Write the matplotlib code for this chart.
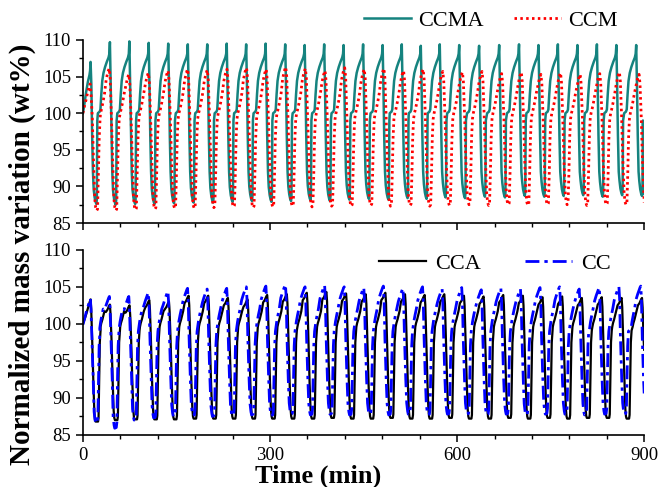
import matplotlib.pyplot as plt
from matplotlib.ticker import MultipleLocator

plt.rcParams['font.family'] = ['Liberation Serif', 'DejaVu Serif']

# ---- values ----
# time (min) of each cycle's peak, peak and trough values (wt%)
ccma_peak_t = [12.3, 43.3, 74.5, 105.5, 136.8, 168.2, 199.4, 230.6, 261.8, 293.0,
               324.4, 355.6, 386.9, 418.0, 449.3, 480.6, 511.3, 541.8, 572.2, 603.4,
               635.3, 667.5, 699.3, 730.5, 761.6, 793.0, 824.2, 855.4, 887.2]
ccma_peak = [107.0, 109.7, 109.8, 109.6, 109.5, 109.4, 109.4, 109.5, 109.4, 109.5,
             109.4, 109.3, 109.4, 109.3, 109.4, 109.3, 109.4, 109.2, 109.4, 109.3,
             109.2, 109.3, 109.4, 109.3, 109.4, 109.3, 109.4, 109.3, 109.3]
ccma_trough = [87.6, 87.5, 87.6, 87.6, 87.7, 87.8, 87.8, 87.9, 88.0, 87.9,
               88.0, 88.1, 88.0, 88.2, 88.3, 88.2, 88.4, 88.3, 88.5, 88.4,
               88.6, 88.5, 88.7, 88.6, 88.7, 88.8, 88.6, 88.8, 88.7]

ccm_peak_t = [11.5, 42.2, 73.7, 105.0, 136.6, 168.0, 199.5, 231.0, 262.4, 293.9,
              325.3, 356.8, 388.3, 419.8, 451.2, 482.7, 514.2, 545.6, 577.1, 608.6,
              640.0, 671.5, 703.0, 734.4, 765.9, 797.4, 828.8, 860.3, 891.8]
ccm_peak = [104.0, 106.1, 105.3, 105.5, 105.8, 106.0, 105.9, 106.0, 106.2, 106.0,
            106.3, 106.1, 105.8, 106.2, 106.0, 106.1, 105.8, 106.0, 105.7, 105.6,
            105.7, 105.4, 105.6, 105.3, 105.5, 105.3, 105.4, 105.6, 105.3]
ccm_trough = [86.7, 86.7, 86.8, 86.9, 87.0, 87.0, 87.1, 87.2, 87.1, 87.2,
              87.3, 87.2, 87.3, 87.3, 87.4, 87.3, 87.4, 87.3, 87.4, 87.5,
              87.4, 87.5, 87.4, 87.5, 87.5, 87.4, 87.5, 87.5, 87.5]

cca_peak_t = [12.3, 43.3, 74.8, 106.5, 138.0, 169.5, 201.0, 232.5, 264.0, 295.5,
              327.0, 359.0, 390.5, 422.0, 453.5, 485.0, 516.5, 548.0, 579.5, 611.0,
              642.5, 674.0, 705.5, 737.0, 768.5, 800.0, 832.0, 863.8, 896.5]
cca_peak = [103.3, 102.6, 102.5, 103.2, 103.0, 103.8, 103.8, 103.5, 103.3, 103.9,
            104.0, 104.2, 104.3, 104.1, 104.0, 104.2, 104.0, 103.9, 104.0, 103.8,
            103.7, 103.9, 103.8, 103.6, 103.7, 103.5, 103.6, 103.5, 103.5]
cca_trough = [86.8, 87.0, 87.1, 87.1, 87.1, 87.2, 87.2, 87.2, 87.2, 87.2,
              87.2, 87.2, 87.3, 87.2, 87.2, 87.3, 87.2, 87.2, 87.3, 87.2,
              87.2, 87.3, 87.2, 87.3, 87.2, 87.3, 87.3, 87.2, 87.3]

cc_peak_t = [12.0, 42.5, 73.6, 105.0, 136.4, 167.8, 199.2, 230.6, 262.0, 293.4,
             324.8, 356.2, 387.6, 419.0, 450.4, 481.8, 513.2, 544.6, 576.0, 607.4,
             638.8, 670.2, 701.6, 733.0, 764.4, 795.8, 828.0, 859.5, 894.5]
cc_peak = [103.4, 103.7, 103.7, 104.2, 104.4, 104.8, 104.7, 104.8, 105.0, 105.1,
           105.3, 105.0, 105.2, 105.0, 104.9, 105.1, 104.8, 105.0, 104.7, 104.9,
           104.6, 104.8, 104.7, 104.9, 105.0, 104.7, 104.9, 105.0, 105.1]
cc_trough = [86.6, 85.9, 87.0, 87.3, 87.5, 87.6, 87.5, 87.6, 87.7, 87.6,
             87.8, 87.7, 87.8, 87.7, 87.8, 87.7, 87.8, 87.7, 87.8, 87.8,
             87.7, 87.8, 87.7, 87.8, 87.8, 87.7, 87.8, 87.8, 87.8]

# shape of one cycle around its peak: (min from peak, value, ref)
# ref 'a' = absolute wt%, 'p' = offset from the peak, 't' = offset from the trough
ccma_shape = [(-19.3, 100.0, 'a'), (-16.5, 100.2, 'a'), (-15.2, 100.5, 'a'),
              (-13.8, 102.6, 'a'), (-12.3, 104.4, 'a'), (-10.3, 105.5, 'a'),
              (-7.8, 106.3, 'a'), (-5.0, 107.0, 'a'), (-2.2, 107.6, 'a'),
              (-0.9, 108.1, 'a'), (0, 0, 'p'), (1.2, 104.0, 'a'), (2.5, 97.0, 'a'),
              (3.8, 92.0, 'a'), (5.0, 2.0, 't'), (6.5, 0.9, 't'), (8.0, 0.3, 't'),
              (9.3, 0.0, 't'), (10.0, 0.6, 't'), (10.4, 94.0, 'a'), (10.8, 99.0, 'a')]
ccm_shape = [(-14.0, 100.0, 'a'), (-12.5, 100.5, 'a'), (-10.0, 101.5, 'a'),
             (-7.5, 102.7, 'a'), (-5.0, -1.6, 'p'), (-2.5, -0.6, 'p'), (-1.0, -0.2, 'p'),
             (0, 0, 'p'), (1.5, -1.3, 'p'), (3.5, 99.5, 'a'), (5.5, 93.5, 'a'),
             (7.5, 1.6, 't'), (9.0, 0.4, 't'), (10.5, 0.0, 't'), (12.0, 0.2, 't'),
             (13.3, 91.5, 'a'), (14.6, 96.5, 'a'), (16.0, 99.2, 'a')]
cca_shape = [(-15.0, 99.6, 'a'), (-13.8, 100.1, 'a'), (-12.0, 100.6, 'a'),
             (-10.3, 101.2, 'a'), (-8.8, 101.7, 'a'), (-6.5, -1.0, 'p'), (-4.0, -0.7, 'p'),
             (-2.0, -0.3, 'p'), (-0.8, -0.1, 'p'), (0, 0, 'p'), (1.0, -1.3, 'p'),
             (2.5, 98.0, 'a'), (4.5, 92.0, 'a'), (6.0, 1.3, 't'), (7.0, 0.3, 't'),
             (8.0, 0.0, 't'), (12.0, 0.0, 't'), (12.8, 0.5, 't'), (13.8, 92.5, 'a'),
             (14.8, 97.5, 'a'), (16.0, 99.1, 'a')]
cc_shape = [(-15.5, 99.4, 'a'), (-14.0, 100.3, 'a'), (-12.0, 101.2, 'a'),
            (-10.0, 102.0, 'a'), (-7.5, -1.8, 'p'), (-5.0, -1.1, 'p'), (-2.5, -0.5, 'p'),
            (-1.0, -0.15, 'p'), (0, 0, 'p'), (1.0, -1.5, 'p'), (2.5, 98.0, 'a'),
            (4.5, 92.5, 'a'), (6.0, 1.5, 't'), (7.5, 0.4, 't'), (8.5, 0.0, 't'),
            (11.0, 0.1, 't'), (12.0, 0.8, 't'), (13.0, 92.5, 'a'), (14.0, 97.0, 'a'),
            (15.3, 99.0, 'a')]

# first (partial) cycle, from t = 0 up to the first peak
ccma_start = ([0, 2, 5, 8, 10.5, 11.5], [100.0, 101.0, 102.8, 104.3, 105.2, 105.8])
ccm_start = ([0, 2, 5, 8, 10], [100.0, 100.8, 101.8, 103.0, 103.6])
cca_start = ([0, 3, 6, 9, 11], [100.0, 100.7, 101.5, 102.4, 103.0])
cc_start = ([0, 3, 6, 9, 11], [99.9, 100.8, 101.8, 102.6, 103.2])

# value at t = 900 min
ccma_end = 89.0
ccm_end = 87.8
cca_end = 96.5
cc_end = 90.6


def build(start, peak_t, peaks, troughs, shape, end_val, t_end=900):
    t, v = list(start[0]), list(start[1])
    for i, (tp, p, tr) in enumerate(zip(peak_t, peaks, troughs)):
        for dt, val, ref in shape:
            if i == 0 and dt < 0:
                continue
            if tp + dt >= t_end:
                continue
            t.append(tp + dt)
            v.append(val if ref == 'a' else (p + val if ref == 'p' else tr + val))
    t.append(t_end)
    v.append(end_val)
    return t, v


fig = plt.figure(figsize=(6.58, 4.87), dpi=100)
ax1 = fig.add_axes([0.126, 0.542, 0.853, 0.376])
ax2 = fig.add_axes([0.126, 0.107, 0.853, 0.380])

l1, = ax1.plot(*build(ccma_start, ccma_peak_t, ccma_peak, ccma_trough, ccma_shape, ccma_end),
               color='#15837f', lw=1.8, label='CCMA')
l2, = ax1.plot(*build(ccm_start, ccm_peak_t, ccm_peak, ccm_trough, ccm_shape, ccm_end),
               color='#ff0000', lw=2.0, ls=(0, (0.9, 1.2)), label='CCM')
l3, = ax2.plot(*build(cca_start, cca_peak_t, cca_peak, cca_trough, cca_shape, cca_end),
               color='black', lw=1.6, label='CCA')
l4, = ax2.plot(*build(cc_start, cc_peak_t, cc_peak, cc_trough, cc_shape, cc_end),
               color='#0000ff', lw=2.0, ls=(0, (5, 1.8, 1.2, 1.8)), label='CC')

for ax in (ax1, ax2):
    ax.set_xlim(0, 900)
    ax.set_ylim(85, 110)
    ax.xaxis.set_major_locator(MultipleLocator(300))
    ax.xaxis.set_minor_locator(MultipleLocator(60))
    ax.yaxis.set_major_locator(MultipleLocator(5))
    ax.yaxis.set_minor_locator(MultipleLocator(2.5))
    ax.spines['top'].set_visible(False)
    ax.spines['right'].set_visible(False)
    for s in ('left', 'bottom'):
        ax.spines[s].set_linewidth(1.2)
    ax.tick_params(which='major', direction='out', length=5, width=1.1, labelsize=13.5)
    ax.tick_params(which='minor', direction='out', length=3, width=1.0)
ax1.tick_params(labelbottom=False)

fig.legend(handles=[l1, l2], loc='center', bbox_to_anchor=(0.746, 0.957), ncol=2,
           frameon=False, fontsize=16, handlelength=2.1, handletextpad=0.3,
           columnspacing=1.4)
fig.legend(handles=[l3, l4], loc='center', bbox_to_anchor=(0.752, 0.458), ncol=2,
           frameon=False, fontsize=16, handlelength=2.1, handletextpad=0.4,
           columnspacing=2.0)

fig.text(0.034, 0.478, 'Normalized mass variation (wt%)', rotation=90,
         ha='center', va='center', fontsize=21, fontweight='bold')
fig.text(0.483, 0.022, 'Time (min)', ha='center', va='center',
         fontsize=19, fontweight='bold')

fig.savefig('out.png', dpi=100)
